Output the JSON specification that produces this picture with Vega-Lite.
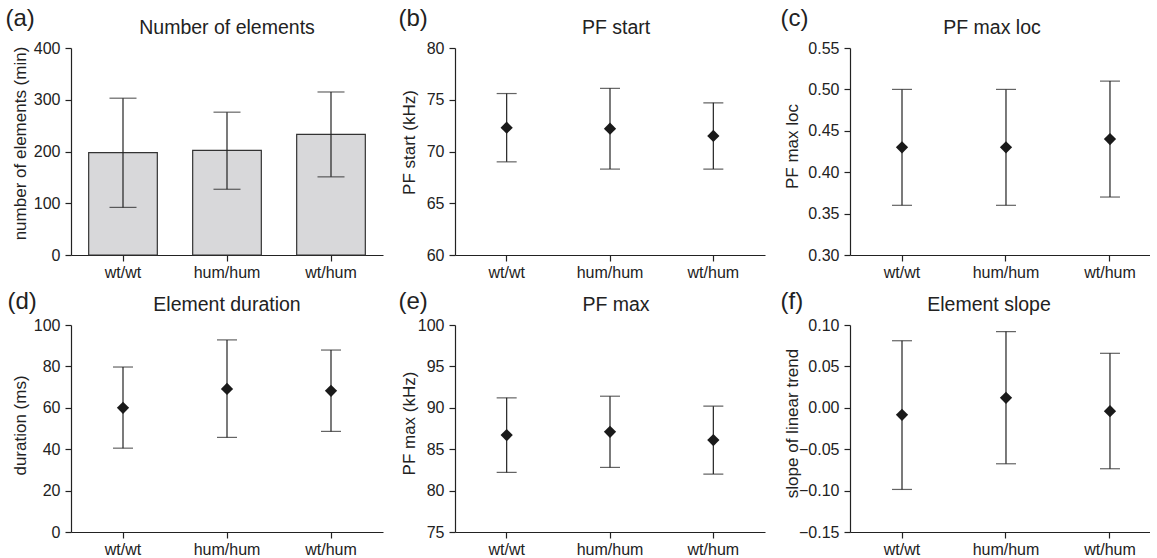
{
  "$schema": "https://vega.github.io/schema/vega-lite/v6.json",
  "padding": {"left": 5, "top": 6, "right": 0, "bottom": 0},
  "background": "white",
  "columns": 3,
  "align": "each",
  "spacing": {"row": 9, "column": 15},
  "config": {
    "font": "Liberation Sans",
    "view": {"stroke": null},
    "axis": {"grid": false, "domainColor": "#222222", "domainWidth": 1.2, "tickColor": "#222222", "tickWidth": 1.2, "tickSize": 6, "labelColor": "#222222", "labelFontSize": 16, "labelFont": "Liberation Sans", "titleColor": "#222222", "titleFontSize": 17, "titleFontWeight": "normal", "titleFont": "Liberation Sans"},
    "axisX": {"labelAngle": 0, "labelPadding": 3, "titleFontSize": 24, "titleAngle": 0, "titleAlign": "left", "titleBaseline": "alphabetic"},
    "axisY": {"labelPadding": 5, "titleAngle": -90, "titleBaseline": "alphabetic", "titleAlign": "center"},
    "title": {"fontSize": 19.5, "fontWeight": "normal", "color": "#222222", "baseline": "alphabetic", "anchor": "middle", "frame": "group", "font": "Liberation Sans"}
  },
  "concat": [
    {
      "width": 312, "height": 207,
      "title": {"text": "Number of elements", "offset": -32},
      "data": {"values": [
        {"genotype": "wt/wt", "mean": 198, "lo": 92, "hi": 303},
        {"genotype": "hum/hum", "mean": 202, "lo": 127, "hi": 276},
        {"genotype": "wt/hum", "mean": 233, "lo": 151, "hi": 315}
      ]},
      "encoding": {"x": {"field": "genotype", "type": "nominal", "sort": null, "scale": {"paddingInner": 0.34, "paddingOuter": 0.17}, "axis": {"title": "(a)", "titleX": -66, "titleY": -230}}},
      "layer": [
        {"mark": {"type": "bar", "fill": "#d8d8da", "stroke": "#333333", "strokeWidth": 1.2},
         "encoding": {"y": {"field": "mean", "type": "quantitative", "scale": {"domain": [0, 400], "nice": false, "zero": false}, "axis": {"title": "number of elements (min)", "values": [0, 100, 200, 300, 400], "titleX": -46, "titleY": 95}}}},
        {"mark": {"type": "rule", "color": "#222222", "strokeWidth": 1.2},
         "encoding": {"y": {"field": "lo", "type": "quantitative", "scale": {"domain": [0, 400], "nice": false, "zero": false}}, "y2": {"field": "hi"}}},
        {"mark": {"type": "tick", "color": "#222222", "size": 27, "thickness": 1.2},
         "encoding": {"y": {"field": "hi", "type": "quantitative", "scale": {"domain": [0, 400], "nice": false, "zero": false}}}},
        {"mark": {"type": "tick", "color": "#222222", "size": 27, "thickness": 1.2},
         "encoding": {"y": {"field": "lo", "type": "quantitative", "scale": {"domain": [0, 400], "nice": false, "zero": false}}}}
      ]
    },
    {
      "width": 310, "height": 207,
      "title": {"text": "PF start", "offset": -32, "dx": 6},
      "data": {"values": [
        {"genotype": "wt/wt", "mean": 72.3, "lo": 69.0, "hi": 75.6},
        {"genotype": "hum/hum", "mean": 72.2, "lo": 68.3, "hi": 76.1},
        {"genotype": "wt/hum", "mean": 71.5, "lo": 68.3, "hi": 74.7}
      ]},
      "encoding": {"x": {"field": "genotype", "type": "nominal", "sort": null, "scale": {"paddingInner": 0.34, "paddingOuter": 0.17}, "axis": {"title": "(b)", "titleX": -57, "titleY": -230}}},
      "layer": [
        {"mark": {"type": "rule", "color": "#222222", "strokeWidth": 1.2},
         "encoding": {"y": {"field": "lo", "type": "quantitative", "scale": {"domain": [60, 80], "nice": false, "zero": false}, "axis": {"title": "PF start (kHz)", "values": [60, 65, 70, 75, 80], "titleX": -41, "titleY": 94}}, "y2": {"field": "hi"}}},
        {"mark": {"type": "tick", "color": "#222222", "size": 20, "thickness": 1.2},
         "encoding": {"y": {"field": "hi", "type": "quantitative", "scale": {"domain": [60, 80], "nice": false, "zero": false}}}},
        {"mark": {"type": "tick", "color": "#222222", "size": 20, "thickness": 1.2},
         "encoding": {"y": {"field": "lo", "type": "quantitative", "scale": {"domain": [60, 80], "nice": false, "zero": false}}}},
        {"mark": {"type": "point", "shape": "diamond", "filled": true, "color": "#1a1a1a", "size": 150, "opacity": 1},
         "encoding": {"y": {"field": "mean", "type": "quantitative", "scale": {"domain": [60, 80], "nice": false, "zero": false}}}}
      ]
    },
    {
      "width": 300, "height": 207,
      "title": {"text": "PF max loc", "offset": -32, "dx": -8},
      "data": {"values": [
        {"genotype": "wt/wt", "mean": 0.43, "lo": 0.36, "hi": 0.50},
        {"genotype": "hum/hum", "mean": 0.43, "lo": 0.36, "hi": 0.50},
        {"genotype": "wt/hum", "mean": 0.44, "lo": 0.37, "hi": 0.51}
      ]},
      "encoding": {"x": {"field": "genotype", "type": "nominal", "sort": null, "scale": {"paddingInner": 0.34, "paddingOuter": 0.1125, "align": 0.756}, "axis": {"title": "(c)", "titleX": -70, "titleY": -230}}},
      "layer": [
        {"mark": {"type": "rule", "color": "#222222", "strokeWidth": 1.2},
         "encoding": {"y": {"field": "lo", "type": "quantitative", "scale": {"domain": [0.30, 0.55], "nice": false, "zero": false}, "axis": {"title": "PF max loc", "values": [0.30, 0.35, 0.40, 0.45, 0.50, 0.55], "format": ".2f", "titleX": -53, "titleY": 98}}, "y2": {"field": "hi"}}},
        {"mark": {"type": "tick", "color": "#222222", "size": 20, "thickness": 1.2},
         "encoding": {"y": {"field": "hi", "type": "quantitative", "scale": {"domain": [0.30, 0.55], "nice": false, "zero": false}}}},
        {"mark": {"type": "tick", "color": "#222222", "size": 20, "thickness": 1.2},
         "encoding": {"y": {"field": "lo", "type": "quantitative", "scale": {"domain": [0.30, 0.55], "nice": false, "zero": false}}}},
        {"mark": {"type": "point", "shape": "diamond", "filled": true, "color": "#1a1a1a", "size": 150, "opacity": 1},
         "encoding": {"y": {"field": "mean", "type": "quantitative", "scale": {"domain": [0.30, 0.55], "nice": false, "zero": false}}}}
      ]
    },
    {
      "width": 312, "height": 207,
      "title": {"text": "Element duration", "offset": -26},
      "data": {"values": [
        {"genotype": "wt/wt", "mean": 60.0, "lo": 40.5, "hi": 79.7},
        {"genotype": "hum/hum", "mean": 69.1, "lo": 45.7, "hi": 92.8},
        {"genotype": "wt/hum", "mean": 68.2, "lo": 48.6, "hi": 87.9}
      ]},
      "encoding": {"x": {"field": "genotype", "type": "nominal", "sort": null, "scale": {"paddingInner": 0.34, "paddingOuter": 0.17}, "axis": {"title": "(d)", "titleX": -64, "titleY": -224}}},
      "layer": [
        {"mark": {"type": "rule", "color": "#222222", "strokeWidth": 1.2},
         "encoding": {"y": {"field": "lo", "type": "quantitative", "scale": {"domain": [0, 100], "nice": false, "zero": false}, "axis": {"title": "duration (ms)", "values": [0, 20, 40, 60, 80, 100], "titleX": -46, "titleY": 100}}, "y2": {"field": "hi"}}},
        {"mark": {"type": "tick", "color": "#222222", "size": 20, "thickness": 1.2},
         "encoding": {"y": {"field": "hi", "type": "quantitative", "scale": {"domain": [0, 100], "nice": false, "zero": false}}}},
        {"mark": {"type": "tick", "color": "#222222", "size": 20, "thickness": 1.2},
         "encoding": {"y": {"field": "lo", "type": "quantitative", "scale": {"domain": [0, 100], "nice": false, "zero": false}}}},
        {"mark": {"type": "point", "shape": "diamond", "filled": true, "color": "#1a1a1a", "size": 150, "opacity": 1},
         "encoding": {"y": {"field": "mean", "type": "quantitative", "scale": {"domain": [0, 100], "nice": false, "zero": false}}}}
      ]
    },
    {
      "width": 310, "height": 207,
      "title": {"text": "PF max", "offset": -26, "dx": 6},
      "data": {"values": [
        {"genotype": "wt/wt", "mean": 86.7, "lo": 82.2, "hi": 91.2},
        {"genotype": "hum/hum", "mean": 87.1, "lo": 82.8, "hi": 91.4},
        {"genotype": "wt/hum", "mean": 86.1, "lo": 82.0, "hi": 90.2}
      ]},
      "encoding": {"x": {"field": "genotype", "type": "nominal", "sort": null, "scale": {"paddingInner": 0.34, "paddingOuter": 0.17}, "axis": {"title": "(e)", "titleX": -57, "titleY": -224}}},
      "layer": [
        {"mark": {"type": "rule", "color": "#222222", "strokeWidth": 1.2},
         "encoding": {"y": {"field": "lo", "type": "quantitative", "scale": {"domain": [75, 100], "nice": false, "zero": false}, "axis": {"title": "PF max (kHz)", "values": [75, 80, 85, 90, 95, 100], "titleX": -41, "titleY": 98}}, "y2": {"field": "hi"}}},
        {"mark": {"type": "tick", "color": "#222222", "size": 20, "thickness": 1.2},
         "encoding": {"y": {"field": "hi", "type": "quantitative", "scale": {"domain": [75, 100], "nice": false, "zero": false}}}},
        {"mark": {"type": "tick", "color": "#222222", "size": 20, "thickness": 1.2},
         "encoding": {"y": {"field": "lo", "type": "quantitative", "scale": {"domain": [75, 100], "nice": false, "zero": false}}}},
        {"mark": {"type": "point", "shape": "diamond", "filled": true, "color": "#1a1a1a", "size": 150, "opacity": 1},
         "encoding": {"y": {"field": "mean", "type": "quantitative", "scale": {"domain": [75, 100], "nice": false, "zero": false}}}}
      ]
    },
    {
      "width": 300, "height": 207,
      "title": {"text": "Element slope", "offset": -26, "dx": -11},
      "data": {"values": [
        {"genotype": "wt/wt", "mean": -0.0085, "lo": -0.0986, "hi": 0.081},
        {"genotype": "hum/hum", "mean": 0.012, "lo": -0.0676, "hi": 0.092},
        {"genotype": "wt/hum", "mean": -0.0041, "lo": -0.0736, "hi": 0.0658}
      ]},
      "encoding": {"x": {"field": "genotype", "type": "nominal", "sort": null, "scale": {"paddingInner": 0.34, "paddingOuter": 0.1125, "align": 0.756}, "axis": {"title": "(f)", "titleX": -70, "titleY": -224}}},
      "layer": [
        {"mark": {"type": "rule", "color": "#222222", "strokeWidth": 1.2},
         "encoding": {"y": {"field": "lo", "type": "quantitative", "scale": {"domain": [-0.15, 0.10], "nice": false, "zero": false}, "axis": {"title": "slope of linear trend", "values": [-0.15, -0.10, -0.05, 0.00, 0.05, 0.10], "format": ".2f", "titleX": -53, "titleY": 98}}, "y2": {"field": "hi"}}},
        {"mark": {"type": "tick", "color": "#222222", "size": 20, "thickness": 1.2},
         "encoding": {"y": {"field": "hi", "type": "quantitative", "scale": {"domain": [-0.15, 0.10], "nice": false, "zero": false}}}},
        {"mark": {"type": "tick", "color": "#222222", "size": 20, "thickness": 1.2},
         "encoding": {"y": {"field": "lo", "type": "quantitative", "scale": {"domain": [-0.15, 0.10], "nice": false, "zero": false}}}},
        {"mark": {"type": "point", "shape": "diamond", "filled": true, "color": "#1a1a1a", "size": 150, "opacity": 1},
         "encoding": {"y": {"field": "mean", "type": "quantitative", "scale": {"domain": [-0.15, 0.10], "nice": false, "zero": false}}}}
      ]
    }
  ]
}
